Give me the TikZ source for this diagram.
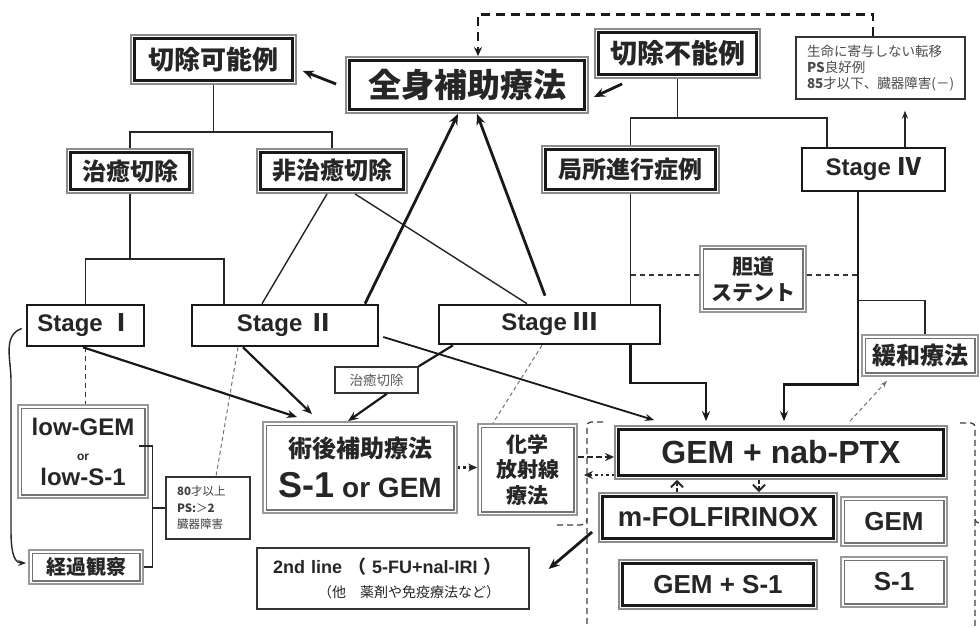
\documentclass[tikz,border=0pt]{standalone}
\usepackage{fontspec}
\setmainfont{Liberation Sans}
\newfontfamily\cjk{Noto Sans CJK JP}
\usetikzlibrary{arrows.meta,calc}
\newcommand\fsz[2]{\fontsize{#1}{#2}\selectfont}
\begin{document}
\begin{tikzpicture}[x=1pt,y=-1pt,
  bx/.style={rectangle, inner sep=0pt, fill=white, text=black!85},
  dblk/.style={bx, draw=black!45, line width=1.8pt, path picture={\draw[black!90,line width=2.4pt] ([shift={(3.6pt,-3.6pt)}]path picture bounding box.north west) rectangle ([shift={(-3.6pt,3.6pt)}]path picture bounding box.south east);}},
  dblg/.style={bx, draw=black!40, line width=1.8pt, path picture={\draw[black!55,line width=1.8pt] ([shift={(3.4pt,-3.4pt)}]path picture bounding box.north west) rectangle ([shift={(-3.4pt,3.4pt)}]path picture bounding box.south east);}},
  stg/.style={bx, draw=black!90, line width=2.6pt, font=\bfseries\fsz{24}{28}},
  thinbox/.style={bx, draw=black!80, line width=1.3pt},
  ln/.style={draw=black!85, line width=1.4pt},
  thk/.style={draw=black!90, line width=2.8pt, -{Stealth[length=11pt,width=9pt]}},
  thkm/.style={draw=black!90, line width=2.2pt, -{Stealth[length=10pt,width=8pt]}},
  thkl/.style={draw=black!90, line width=2.6pt},
  dashln/.style={draw=black!80, line width=1.4pt, dash pattern=on 5pt off 4pt},
  thindash/.style={draw=black!55, line width=1pt, dash pattern=on 4pt off 3pt},
  topdash/.style={draw=black!90, line width=2.6pt, dash pattern=on 9pt off 6pt, -{Stealth[length=9pt,width=8pt]}},
  dotarrow/.style={draw=black!85, line width=2.4pt, dash pattern=on 2.5pt off 3pt, -{Stealth[length=9pt,width=8pt]}},
  dasharrow/.style={draw=black!85, line width=2.2pt, dash pattern=on 6pt off 3pt, -{Stealth[length=9pt,width=8pt]}},
  chev/.style={draw=black!85, line width=2pt, dash pattern=on 4pt off 2pt, -{Straight Barb[length=6pt,width=12pt]}},
  encl/.style={draw=black!75, line width=1.3pt, dash pattern=on 6pt off 4pt},
  cjkb/.style={font=\cjk\bfseries\fsz{#1}{#1}},
]
\fill[white] (0,0) rectangle (979,628);
\useasboundingbox (0,0) rectangle (979,628);

% nodes
\node[dblk, minimum width=165pt, minimum height=49pt, cjkb=26] (kanou) at (213.5,59.5) {切除可能例};
\node[dblk, minimum width=242pt, minimum height=56pt, cjkb=33] (zenshin) at (467,85) {全身補助療法};
\node[dblk, minimum width=165pt, minimum height=49pt, cjkb=27] (funou) at (677.5,53.5) {切除不能例};
\node[thinbox, minimum width=169pt, minimum height=62pt, text width=147pt, align=left, text=black!70, font=\cjk\fsz{13.5}{16}] (notes) at (880.5,68) {生命に寄与しない転移\\{\bfseries PS}良好例\\{\bfseries 85}才以下、臓器障害(－)};
\node[dblk, minimum width=126pt, minimum height=44pt, cjkb=24] (chiyu) at (130,171) {治癒切除};
\node[dblk, minimum width=150pt, minimum height=44pt, cjkb=24] (hichiyu) at (332,171) {非治癒切除};
\node[dblk, minimum width=177pt, minimum height=47pt, cjkb=24] (kyokusho) at (630.5,169.5) {局所進行症例};
\node[stg, minimum width=143pt, minimum height=43pt] (st4) at (873.5,169.5) {Stage {\cjk Ⅳ}};
\node[stg, minimum width=117pt, minimum height=41pt] (st1) at (85.5,325.5) {Stage {\cjk Ⅰ}};
\node[stg, minimum width=186pt, minimum height=41pt] (st2) at (285,325.5) {Stage {\cjk Ⅱ}};
\node[stg, minimum width=221pt, minimum height=39pt] (st3) at (549.5,324.5) {Stage {\cjk Ⅲ}};
\node[dblg, minimum width=106pt, minimum height=66pt, align=center, font=\cjk\bfseries\fsz{21}{26}] (tando) at (753,279) {胆道\\ステント};
\node[dblg, minimum width=116pt, minimum height=41pt, cjkb=24] (kanwa) at (920,355.5) {緩和療法};
\node[thinbox, minimum width=83pt, minimum height=26pt, text=black!65, font=\cjk\fsz{13.5}{14}] (chiyulabel) at (376.5,380) {治癒切除};
\node[dblg, minimum width=130pt, minimum height=93pt, align=center, font=\bfseries\fsz{24}{25}] (lowgem) at (83,451.5) {low-GEM\\{\fsz{12}{12}or}\\low-S-1};
\node[dblg, minimum width=114pt, minimum height=34pt, cjkb=20] (keika) at (86,567) {経過観察};
\node[thinbox, minimum width=84pt, minimum height=62pt, text width=62pt, align=left, text=black!75, font=\cjk\fsz{11.5}{16.5}] (age80) at (208,508) {{\bfseries 80}才以上\\{\bfseries PS:}＞{\bfseries 2}\\臓器障害};
\node[dblg, minimum width=194pt, minimum height=91pt, align=center, font=\bfseries\fsz{24}{40}] (jutsugo) at (360,467.5) {{\cjk 術後補助療法}\\{\fsz{36}{40}S-1}\hspace{8pt}{\fsz{28}{40}or GEM}};
\node[dblg, minimum width=99pt, minimum height=91pt, align=center, font=\cjk\bfseries\fsz{21}{25.5}] (kagaku) at (527.5,469.5) {化学\\放射線\\療法};
\node[dblk, minimum width=332pt, minimum height=53pt, font=\bfseries\fsz{32}{34}] (gemnab) at (781,452.5) {GEM + nab-PTX};
\node[dblk, minimum width=238pt, minimum height=49pt, font=\bfseries\fsz{27.5}{28}] (mfolf) at (718,517.5) {m-FOLFIRINOX};
\node[dblg, minimum width=106pt, minimum height=49pt, font=\bfseries\fsz{26}{28}] (gem) at (894,521.5) {GEM};
\node[dblk, minimum width=198pt, minimum height=49pt, font=\bfseries\fsz{26}{28}] (gems1) at (718,584.5) {GEM + S-1};
\node[dblg, minimum width=106pt, minimum height=50pt, font=\bfseries\fsz{26}{28}] (s1) at (894,582) {S-1};
\node[thinbox, minimum width=272pt, minimum height=61pt, text width=240pt, align=left, font=\fsz{18}{24}] (second) at (393,578.5) {{\bfseries 2nd line {\cjk （} 5-FU+nal-IRI {\cjk ）}}\\\hspace*{45pt}{\cjk\fsz{14}{24}（他　薬剤や免疫療法など）}};

% trees
\coordinate (kj) at ($(kanou.south)+(0,47)$);
\draw[ln] (kanou.south) -- (kj);
\draw[ln] (chiyu.north) |- (kj) -| (hichiyu.north);
\coordinate (fj) at ($(funou.south)+(0,39)$);
\draw[ln] (funou.south) -- (fj);
\draw[ln] (kyokusho.north) |- (fj) -| ([shift={(-46.5,0)}]st4.north);
\coordinate (cj) at ($(chiyu.south)+(0,65)$);
\draw[ln] (chiyu.south) -- (cj);
\draw[ln] (st1.north) |- (cj) -| ([shift={(-61,0)}]st2.north);

\draw[ln] ([shift={(-5,0)}]hichiyu.south) -- ([shift={(-23,0)}]st2.north);
\draw[ln] ([shift={(23,0)}]hichiyu.south) -- ([shift={(-22.5,0)}]st3.north);

% to zenshin
\draw[thk] ([shift={(80,0)}]st2.north) -- ([shift={(-9,0)}]zenshin.south);
\draw[thk] ([shift={(-4.5,-8)}]st3.north) -- ([shift={(10,0)}]zenshin.south);
\draw[thk] ([shift={(-9,-1)}]zenshin.west) -- ([shift={(6,11.5)}]kanou.east);
\draw[thk] ([shift={(28,5)}]funou.south west) -- ([shift={(5,12)}]zenshin.east);

% top dashed
\draw[topdash] ([shift={(-7.5,0)}]notes.north) -- ([shift={(-7.5,-22)}]notes.north) -| ([shift={(11,0)}]zenshin.north);
\draw[ln, -{Stealth[length=8pt,width=6pt]}] ([shift={(31.5,0)}]st4.north) -- ([shift={(24.5,11)}]notes.south);

% kyokusho -> gemnab
\draw[ln] (kyokusho.south) -- (kyokusho.south |- st3.north);
\draw[thkl, -{Stealth[length=10pt,width=8pt]}] (kyokusho.south |- st3.south) -- ($(kyokusho.south)+(0,189)$) -| ([shift={(-75,-4)}]gemnab.north);

% st4 -> gemnab
\coordinate (s4d) at ([shift={(-15.5,0)}]st4.south);
\draw[thkl, -{Stealth[length=10pt,width=8pt]}] (s4d) -- ($(s4d)+(0,192)$) -| ([shift={(3,-4)}]gemnab.north);
\draw[ln] ($(s4d)+(0,108)$) -| ([shift={(5,0)}]kanwa.north);

% tando
\draw[dashln] ([shift={(0,-4)}]kyokusho.south |- tando.west) -- ([shift={(0,-4)}]tando.west);
\draw[dashln] ([shift={(0,-4)}]tando.east) -- ([shift={(0,-4)}]s4d |- tando.east);

\draw[thindash, -{Stealth[length=7pt,width=5pt]}] ([shift={(69,-4)}]gemnab.north) -- ([shift={(-33,4)}]kanwa.south);

% st1 side
\draw[ln, -{Stealth[length=8pt,width=6pt]}] ([shift={(-4,3)}]st1.west) to[out=200,in=90] (11,380) -- (11,530) to[out=-90,in=180] ([shift={(-2,-4)}]keika.west);
\draw[dashln] (st1.south) -- (st1.south |- lowgem.north);
\coordinate (br) at ([shift={(-13,0)}]age80.west);
\draw[ln] ([shift={(-10,-5.5)}]lowgem.east) -| (br) |- (keika.east);
\draw[ln] (br) -- (age80.west);
\draw[thindash] ([shift={(-47,0)}]st2.south) -- ([shift={(8,0)}]age80.north);

% to jutsugo
\draw[thkm] ([shift={(-2.5,0)}]st1.south) -- ([shift={(-63,-4)}]jutsugo.north);
\draw[thkm] ([shift={(-42,0)}]st2.south) -- ([shift={(-48,-7)}]jutsugo.north);
\draw[draw=black!90, line width=2.2pt] ([shift={(-96.5,0)}]st3.south) -- (chiyulabel.north east);
\draw[thkm] ([shift={(10.5,0)}]chiyulabel.south) -- ([shift={(-12,0)}]jutsugo.north);

\draw[draw=black!90, line width=1.8pt, -{Stealth[length=9pt,width=7pt]}] ([shift={(4,11.5)}]st2.east) -- ([shift={(40,-5)}]gemnab.north west);
\draw[thindash] ([shift={(-7.5,0)}]st3.south) -- ([shift={(-34.5,0)}]kagaku.north);

\draw[dotarrow] (jutsugo.east) -- (kagaku.west |- jutsugo.east);
\draw[dasharrow] ([shift={(0,-12.5)}]kagaku.east) -- ([shift={(0,4.5)}]gemnab.west);
\draw[dotarrow] ([shift={(0,22.5)}]gemnab.west) -- ([shift={(6,5.5)}]kagaku.east);

\draw[chev] ([shift={(-41,0)}]mfolf.north) -- ([shift={(-41,0)}]mfolf.north |- gemnab.south);
\draw[chev] ([shift={(-22,0)}]gemnab.south) -- ([shift={(-22,0)}]gemnab.south |- mfolf.north);

\draw[thk] ([shift={(-6,14.5)}]mfolf.west) -- ([shift={(19,-9.5)}]second.east);

% enclosure
\draw[encl] (603,422) -- (591,422) to[out=180,in=90] (587,426) -- (587,626);
\draw[encl] (557,525) -- (580,525) to[out=0,in=-90] (587,519);
\draw[encl] (960,423) -- (971,423) to[out=0,in=90] (975,427) -- (975,626);
\draw[encl] (975,519) to[out=-90,in=180] (979,523);
\end{tikzpicture}
\end{document}
